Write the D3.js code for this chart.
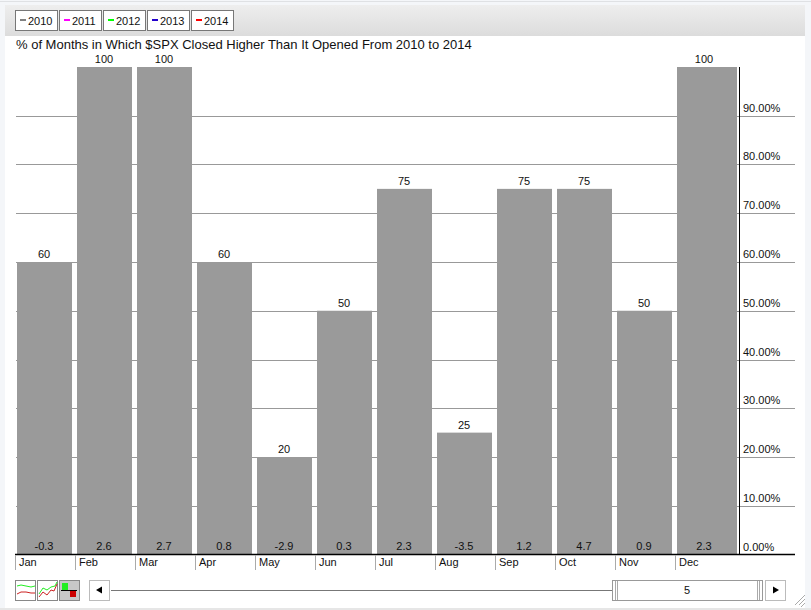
<!DOCTYPE html>
<html><head><meta charset="utf-8">
<script src="https://cdnjs.cloudflare.com/ajax/libs/d3/7.8.5/d3.min.js"></script>
<style>html,body{margin:0;padding:0;background:#fff;overflow:hidden}svg{display:block}text{font-family:"Liberation Sans",Arial,sans-serif;fill:#111}</style>
</head><body><svg id="c" width="811" height="610"></svg>
<script>
const months=["Jan","Feb","Mar","Apr","May","Jun","Jul","Aug","Sep","Oct","Nov","Dec"];
const pctUp=[60,100,100,60,20,50,75,25,75,75,50,100];
const avgChange=[-0.3,2.6,2.7,0.8,-2.9,0.3,2.3,-3.5,1.2,4.7,0.9,2.3];
const yTicks=[0,10,20,30,40,50,60,70,80,90];
const legendYears=["2010","2011","2012","2013","2014"];
const legendColors=["#808080","#ff00ff","#00ff00","#2200cc","#ff0000"];
const title="% of Months in Which $SPX Closed Higher Than It Opened From 2010 to 2014";
const sliderValue="5";

const svg=d3.select("#c");
const defs=svg.append("defs");
const g=defs.append("linearGradient").attr("id","hd").attr("x1",0).attr("x2",0).attr("y1",0).attr("y2",1);
g.append("stop").attr("offset","0").attr("stop-color","#eeeeee");
g.append("stop").attr("offset","1").attr("stop-color","#dcdcdc");

// window chrome
svg.append("rect").attr("width",811).attr("height",610).attr("fill","#f4f6f9");
svg.append("rect").attr("y",1).attr("width",811).attr("height",1).attr("fill","#dfe1e4");
svg.append("rect").attr("y",608).attr("width",811).attr("height",2).attr("fill","#e6e6e6");
svg.append("rect").attr("x",5).attr("y",5).attr("width",800).attr("height",603).attr("fill","#fff");
svg.append("rect").attr("x",5).attr("y",5).attr("width",800).attr("height",31).attr("fill","url(#hd)");

const x=d3.scaleBand().domain(months).range([15,735]);
const y=d3.scaleLinear().domain([0,100]).range([554.5,67]);

// legend buttons
const lx=d3.scaleBand().domain(legendYears).range([15,235]);
const leg=svg.append("g").selectAll("g").data(legendYears).join("g")
  .attr("transform",d=>`translate(${lx(d)},0)`);
leg.append("rect").attr("x",.5).attr("y",10.5).attr("width",42).attr("height",20)
  .attr("fill","#fff").attr("stroke","#777");
leg.append("rect").attr("x",5).attr("y",19).attr("width",6).attr("height",2)
  .attr("fill",(d,i)=>legendColors[i]);
leg.append("text").attr("x",13).attr("y",24.5).attr("font-size",11).text(d=>d);

// title
svg.append("text").attr("x",16).attr("y",49).attr("font-size",13).text(title);

// gridlines
svg.append("g").selectAll("line").data(yTicks.filter(d=>d>0)).join("line")
  .attr("x1",16).attr("x2",795).attr("y1",d=>Math.round(y(d))+.5).attr("y2",d=>Math.round(y(d))+.5)
  .attr("stroke","#999");

// bars
const lastM=months[months.length-1];
svg.append("g").selectAll("rect").data(months).join("rect")
  .attr("x",d=>x(d)+2).attr("y",(d,i)=>y(pctUp[i]))
  .attr("width",d=>d===lastM?x.step():x.step()-5)
  .attr("height",(d,i)=>y(0)-y(pctUp[i])).attr("fill","#9a9a9a");

// value labels
svg.append("g").selectAll("text").data(months).join("text")
  .attr("x",d=>x(d)+29).attr("y",(d,i)=>y(pctUp[i])-4).attr("text-anchor","middle")
  .attr("font-size",11).text((d,i)=>pctUp[i]);
svg.append("g").selectAll("text").data(months).join("text")
  .attr("x",d=>x(d)+29).attr("y",550).attr("text-anchor","middle")
  .attr("font-size",11).text((d,i)=>avgChange[i].toFixed(1));

// axes
svg.append("line").attr("x1",739.5).attr("x2",739.5).attr("y1",67).attr("y2",554).attr("stroke","#000");
svg.append("line").attr("x1",15).attr("x2",795).attr("y1",554.5).attr("y2",554.5).attr("stroke","#000").attr("stroke-width",1.4);
svg.append("g").selectAll("text").data(yTicks).join("text")
  .attr("x",743).attr("y",d=>Math.round(y(d))-4).attr("font-size",11)
  .text(d=>d3.format(".2f")(d)+"%");

// month ticks
svg.append("g").selectAll("line").data(months).join("line")
  .attr("x1",d=>x(d)+.5).attr("x2",d=>x(d)+.5).attr("y1",555).attr("y2",570).attr("stroke","#aaa");
svg.append("g").selectAll("text").data(months).join("text")
  .attr("x",d=>x(d)+4).attr("y",566).attr("font-size",11).text(d=>d);

// view toggles
const tg=svg.append("g");
[15,37,59].forEach((bx,i)=>{
  tg.append("rect").attr("x",bx+.5).attr("y",580.5).attr("width",20).attr("height",20)
    .attr("fill",i===2?"#c8c8c8":"#fff").attr("stroke","#888");
});
tg.append("path").attr("d","M17 586l4-1 5 1 5 1 4-1").attr("fill","none").attr("stroke","#2e2");
tg.append("path").attr("d","M17 594l4-2 5 0 5 1 4 0").attr("fill","none").attr("stroke","#c22");
tg.append("path").attr("d","M39 594l4-6 4 2 4-3 4-1 2-4").attr("fill","none").attr("stroke","#2e2");
tg.append("path").attr("d","M39 597l4-5 4 3 4-5 3 1 3-7").attr("fill","none").attr("stroke","#c22");
tg.append("rect").attr("x",62).attr("y",583).attr("width",6).attr("height",7).attr("fill","#22ee22");
tg.append("rect").attr("x",70).attr("y",591).attr("width",6).attr("height",6).attr("fill","#cc0000");
tg.append("rect").attr("x",61).attr("y",590).attr("width",16).attr("height",1).attr("fill","#000");

// slider
const sl=svg.append("g");
sl.append("rect").attr("x",89.5).attr("y",580.5).attr("width",20).attr("height",20).attr("fill","#fff").attr("stroke","#bbb");
sl.append("path").attr("d","M96 590l6-3.5v7z").attr("fill","#000");
sl.append("line").attr("x1",111).attr("x2",613).attr("y1",590.5).attr("y2",590.5).attr("stroke","#777");
sl.append("rect").attr("x",612.5).attr("y",580.5).attr("width",150).attr("height",20).attr("fill","#fff").attr("stroke","#999");
[615.5,617.5,757.5,759.5].forEach(px=>sl.append("line").attr("x1",px).attr("x2",px).attr("y1",581).attr("y2",600).attr("stroke","#aaa"));
sl.append("text").attr("x",687).attr("y",594).attr("text-anchor","middle").attr("font-size",11).text(sliderValue);
sl.append("rect").attr("x",765.5).attr("y",580.5).attr("width",20).attr("height",20).attr("fill","#fff").attr("stroke","#bbb");
sl.append("path").attr("d","M779 590l-6-3.5v7z").attr("fill","#000");

// resize grip
[[805,595,795,605],[805,599,799,605],[805,603,801,607]].forEach(a=>svg.append("line")
  .attr("x1",a[0]).attr("y1",a[1]).attr("x2",a[2]).attr("y2",a[3]).attr("stroke","#aaa"));
</script></body></html>
